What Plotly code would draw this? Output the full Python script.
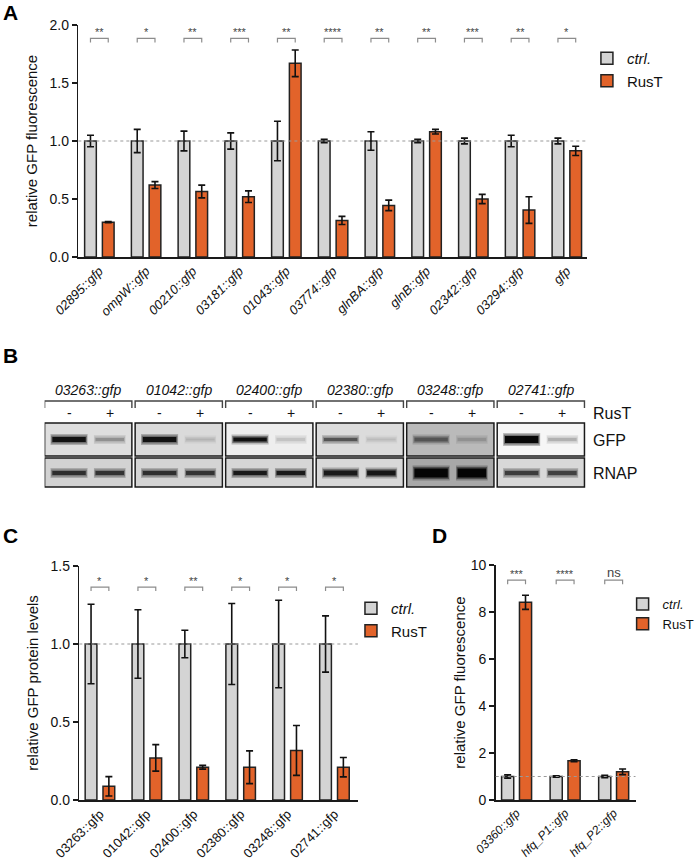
import plotly.graph_objects as go

W, H = 700, 866
def px(x): return x / W
def py(y): return 1 - y / H

FONT = "Liberation Sans Narrow, Arial Narrow, Liberation Sans, Arial, sans-serif"
GRAY = "#d4d4d4"
ORANGE = "#e2632a"
EDGE = "#222222"
AX = "#1a1a1a"
BR = "#8c8c8c"

# ---------------- Data ----------------
# Panel A
a_labels = ["02895::gfp", "ompW::gfp", "00210::gfp", "03181::gfp", "01043::gfp", "03774::gfp",
            "glnBA::gfp", "glnB::gfp", "02342::gfp", "03294::gfp", "gfp"]
a_ctrl = [1.0, 1.0, 1.0, 1.0, 1.0, 1.0, 1.0, 1.0, 1.0, 1.0, 1.0]
a_ctrl_err = [0.05, 0.10, 0.085, 0.07, 0.17, 0.015, 0.08, 0.015, 0.025, 0.05, 0.025]
a_rust = [0.30, 0.62, 0.565, 0.52, 1.67, 0.315, 0.445, 1.08, 0.50, 0.405, 0.915]
a_rust_err = [0.005, 0.03, 0.055, 0.05, 0.115, 0.035, 0.045, 0.02, 0.04, 0.115, 0.04]
a_sig = ["**", "*", "**", "***", "**", "****", "**", "**", "***", "**", "*"]

# Panel B (western blot band darkness 0..1 and membrane background grey levels)
b_labels = ["03263::gfp", "01042::gfp", "02400::gfp", "02380::gfp", "03248::gfp", "02741::gfp"]
b_lanes = ["-", "+"]
b_rows = ["GFP", "RNAP"]
b_gfp_minus = [0.92, 0.92, 0.93, 0.62, 0.55, 0.97]
b_gfp_plus = [0.35, 0.18, 0.18, 0.15, 0.22, 0.28]
b_rnap_minus = [0.78, 0.78, 0.88, 0.88, 0.97, 0.72]
b_rnap_plus = [0.76, 0.76, 0.88, 0.90, 0.97, 0.70]
b_gfp_bg = [222, 218, 238, 220, 186, 246]
b_rnap_bg = [210, 212, 214, 216, 168, 216]
b_gfp_thick_minus = [5, 5, 4, 3, 4, 7]
b_gfp_thick_plus = [3, 2, 3, 2, 3, 3]
b_rnap_thick = [4, 4, 4, 5, 9, 4]

# Panel C
c_labels = ["03263::gfp", "01042::gfp", "02400::gfp", "02380::gfp", "03248::gfp", "02741::gfp"]
c_ctrl = [1.0, 1.0, 1.0, 1.0, 1.0, 1.0]
c_ctrl_err = [0.255, 0.22, 0.088, 0.26, 0.28, 0.18]
c_rust = [0.088, 0.27, 0.21, 0.21, 0.318, 0.21]
c_rust_err = [0.062, 0.085, 0.012, 0.105, 0.16, 0.062]
c_sig = ["*", "*", "**", "*", "*", "*"]

# Panel D
d_labels = ["03360::gfp", "hfq_P1::gfp", "hfq_P2::gfp"]
d_ctrl = [1.0, 1.0, 1.0]
d_ctrl_err = [0.07, 0.03, 0.05]
d_rust = [8.41, 1.67, 1.20]
d_rust_err = [0.30, 0.04, 0.12]
d_sig = ["***", "****", "ns"]

series_names = ["<i>ctrl.</i>", "RusT"]

fig = go.Figure()

def add_bar_panel(labels, ctrl, ctrl_err, rust, rust_err, sig, xa, ya, legend, half, bw,
                  br_y, br_d):
    idx = list(range(len(labels)))
    for name, vals, errs, col, off in [(series_names[0], ctrl, ctrl_err, GRAY, -half),
                                       (series_names[1], rust, rust_err, ORANGE, half)]:
        fig.add_trace(go.Bar(
            x=idx, y=vals, name=name, offset=off - bw / 2, width=bw,
            marker=dict(color=col, line=dict(color=EDGE, width=1.5)),
            error_y=dict(type="data", array=errs, visible=True, color="#111111",
                         thickness=1.6, width=3.5),
            xaxis=xa, yaxis=ya, legend=legend, showlegend=True, hoverinfo="skip"))
    bx, by = [], []
    for i in idx:
        bx += [i - half, i - half, i + half, i + half, None]
        by += [br_y - br_d, br_y, br_y, br_y - br_d, None]
    fig.add_trace(go.Scatter(x=bx, y=by, mode="lines", line=dict(color=BR, width=1.2),
                             xaxis=xa, yaxis=ya, showlegend=False, hoverinfo="skip"))
    for i, s in zip(idx, sig):
        fig.add_annotation(x=i, y=br_y, xref=xa, yref=ya, text=s, showarrow=False,
                           yanchor="bottom", yshift=-2,
                           font=dict(size=11 if s != "ns" else 13, color="#444444", family=FONT))

add_bar_panel(a_labels, a_ctrl, a_ctrl_err, a_rust, a_rust_err, a_sig, "x", "y", "legend",
              0.19, 0.25, 1.885, 0.035)
add_bar_panel(c_labels, c_ctrl, c_ctrl_err, c_rust, c_rust_err, c_sig, "x2", "y2", "legend2",
              0.19, 0.25, 1.365, 0.025)
add_bar_panel(d_labels, d_ctrl, d_ctrl_err, d_rust, d_rust_err, d_sig, "x3", "y3", "legend3",
              0.184, 0.25, 9.36, 0.18)

# ---------------- Panel B: blot ----------------
PW = 0.964         # panel width in construct units
LANE_C = [0.27, 0.72]
LANE_HW = [0.205, 0.175]
ROW_BOX = {"GFP": (423, 456), "RNAP": (458, 487)}
ROW_C = {"GFP": 439.5, "RNAP": 473}

def grey(v):
    v = int(max(0, min(255, round(v))))
    return f"rgb({v},{v},{v})"

shapes = []
for i in range(len(b_labels)):
    for row, bgs in (("GFP", b_gfp_bg), ("RNAP", b_rnap_bg)):
        y0, y1 = ROW_BOX[row]
        shapes.append(dict(type="rect", xref="x4", yref="y4", x0=i, x1=i + PW, y0=y0, y1=y1,
                           fillcolor=grey(bgs[i]), line=dict(color=AX, width=1.5), layer="below"))

for i in range(len(b_labels)):
    for row in b_rows:
        if row == "GFP":
            darks = [b_gfp_minus[i], b_gfp_plus[i]]
            thick = [b_gfp_thick_minus[i], b_gfp_thick_plus[i]]
            bg = b_gfp_bg[i]
        else:
            darks = [b_rnap_minus[i], b_rnap_plus[i]]
            thick = [b_rnap_thick[i], b_rnap_thick[i]]
            bg = b_rnap_bg[i]
        for k in range(2):
            c = i + LANE_C[k]
            hw = LANE_HW[k]
            d = darks[k]
            # soft halo layers then core
            for extra, frac, shrink in ((6, 0.25, 1.0), (3, 0.55, 0.96), (0, 1.0, 0.9)):
                fig.add_trace(go.Scatter(
                    x=[c - hw * shrink, c + hw * shrink], y=[ROW_C[row], ROW_C[row]],
                    mode="lines", line=dict(color=grey(bg * (1 - frac * d)), width=thick[k] + extra),
                    xaxis="x4", yaxis="y4", showlegend=False, hoverinfo="skip"))

# brackets above blots
bx, by = [], []
for i in range(len(b_labels)):
    bx += [i, i, i + PW, i + PW, None]
    by += [408, 401, 401, 408, None]
fig.add_trace(go.Scatter(x=bx, y=by, mode="lines", line=dict(color="#444444", width=1.4),
                         xaxis="x4", yaxis="y4", showlegend=False, hoverinfo="skip"))

ann = []
for i, lab in enumerate(b_labels):
    ann.append(dict(x=i + PW / 2, y=390, xref="x4", yref="y4", text=f"<i>{lab}</i>",
                    showarrow=False, font=dict(size=14, family=FONT, color="#111")))
    for k, ln in enumerate(b_lanes):
        ann.append(dict(x=i + LANE_C[k], y=413, xref="x4", yref="y4", text=ln, showarrow=False,
                        font=dict(size=14, family=FONT, color="#111")))
for txt, yy in (("RusT", 413), ("GFP", 440), ("RNAP", 473)):
    ann.append(dict(x=px(596), y=py(yy), xref="paper", yref="paper", text=txt, showarrow=False,
                    xanchor="left", yanchor="middle", font=dict(size=16, family=FONT, color="#111")))

for txt, xx, yy in (("A", 1, 13), ("B", 1, 355), ("C", 1, 535), ("D", 434, 535)):
    ann.append(dict(x=px(xx), y=py(yy), xref="paper", yref="paper", text=f"<b>{txt}</b>",
                    showarrow=False, xanchor="left", yanchor="middle",
                    font=dict(size=21, family="Liberation Sans, Arial, sans-serif", color="#000")))
for a in ann:
    fig.add_annotation(**a)

# dotted reference lines at 1.0
for xa, ya in (("x", "y"), ("x2", "y2"), ("x3", "y3")):
    shapes.append(dict(type="line", xref=f"{xa} domain", yref=ya, x0=0, x1=1, y0=1, y1=1,
                       line=dict(color="#9a9a9a", width=1.2, dash="dot"), layer="above"))

# ---------------- Layout ----------------
def xax(domain, labels, rng, italic, anchor, fs):
    return dict(domain=domain, range=rng, tickmode="array", tickvals=list(range(len(labels))),
                ticktext=[f"<i>{l}</i>" if italic else l for l in labels], tickangle=-45,
                showline=True, linecolor=AX, linewidth=1.5, ticks="", showgrid=False,
                zeroline=False, tickfont=dict(size=fs, family=FONT, color="#111"),
                fixedrange=True, automargin=False, anchor=anchor)

def yax(domain, rng, dtick, fmt, title, anchor, standoff):
    return dict(domain=domain, range=rng, dtick=dtick, tickformat=fmt, showline=True, linecolor=AX,
                linewidth=1.5, ticks="outside", ticklen=5, tickwidth=1.5, tickcolor=AX,
                showgrid=False, zeroline=False, tickfont=dict(size=14, family=FONT, color="#111"),
                title=dict(text=title, font=dict(size=15, family=FONT, color="#111"),
                           standoff=standoff),
                anchor=anchor, fixedrange=True, automargin=False)

legend_common = dict(yanchor="top", xanchor="left", bgcolor="rgba(0,0,0,0)",
                     tracegroupgap=0, itemclick=False, itemdoubleclick=False)

fig.update_layout(
    template="none",
    width=W, height=H, margin=dict(l=0, r=0, t=0, b=0),
    paper_bgcolor="white", plot_bgcolor="rgba(0,0,0,0)",
    font=dict(family=FONT, color="#111"),
    barmode="overlay", bargap=0,
    xaxis=xax([px(79), px(592)], a_labels, [-0.45, 10.43], True, "y", 13),
    yaxis=yax([py(257), py(25)], [0, 2.0], 0.5, ".1f", "relative GFP fluorescence", "x", 8),
    xaxis2=xax([px(80), px(361)], c_labels, [-0.44, 5.5], False, "y2", 13),
    yaxis2=yax([py(800), py(566)], [0, 1.5], 0.5, ".1f", "relative GFP protein levels", "x2", 8),
    xaxis3=xax([px(500), px(641)], d_labels, [-0.43, 2.45], True, "y3", 12),
    yaxis3=yax([py(800), py(565)], [0, 10], 2, "d", "relative GFP fluorescence", "x3", 1),
    xaxis4=dict(domain=[px(45), px(45 + 6 * 91.3)], range=[0, 6], visible=False, fixedrange=True,
                anchor="y4", automargin=False),
    yaxis4=dict(domain=[py(495), py(380)], range=[495, 380], visible=False, fixedrange=True,
                anchor="x4", automargin=False),
    legend=dict(x=px(592), y=py(42), font=dict(size=15, family=FONT, color="#111"),
                **legend_common),
    legend2=dict(x=px(354), y=py(592), font=dict(size=15, family=FONT, color="#111"),
                 **legend_common),
    legend3=dict(x=px(628), y=py(589), font=dict(size=13, family=FONT, color="#111"),
                 **legend_common),
    shapes=shapes,
    showlegend=True,
)

fig.write_html("out.html",
               config={"displayModeBar": False, "staticPlot": True},
               post_script="document.body.style.margin='0';"
                           "document.body.style.overflow='hidden';")
